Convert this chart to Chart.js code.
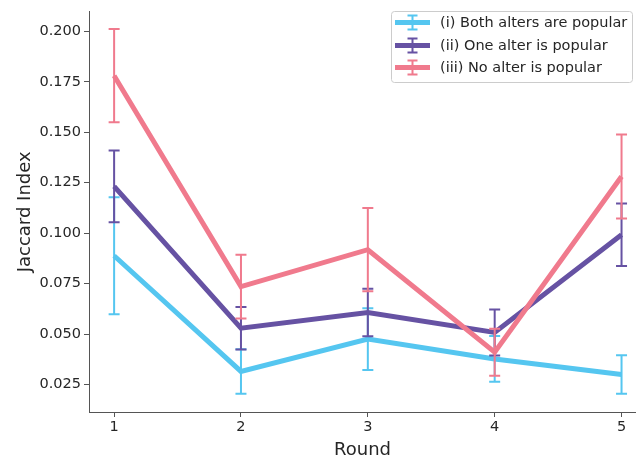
<!DOCTYPE html>
<html>
<head>
<meta charset="utf-8">
<script src="https://cdn.jsdelivr.net/npm/chart.js@4/dist/chart.umd.min.js"></script>
<style>
  html, body { margin: 0; padding: 0; background: #fff; }
  #wrap { width: 636px; height: 461px; position: relative; }
</style>
</head>
<body>
<div id="wrap"><canvas id="c" width="636" height="461"></canvas></div>
<script>
// ---- data ----
const rounds = [1, 2, 3, 4, 5];
const seriesLabels = ["(i) Both alters are popular", "(ii) One alter is popular", "(iii) No alter is popular"];
const bothMean = [0.0888, 0.0315, 0.0475, 0.0377, 0.0300];
const bothErr  = [0.0290, 0.0110, 0.0153, 0.0113, 0.0095];
const oneMean  = [0.1232, 0.0529, 0.0607, 0.0508, 0.0992];
const oneErr   = [0.0178, 0.0105, 0.0118, 0.0114, 0.0155];
const noMean   = [0.1780, 0.0735, 0.0918, 0.0410, 0.1281];
const noErr    = [0.0231, 0.0158, 0.0206, 0.0116, 0.0208];
const yTicks = [0.025, 0.050, 0.075, 0.100, 0.125, 0.150, 0.175, 0.200];
const xTicks = [1, 2, 3, 4, 5];

const colors = ["#55c6f0", "#6652a3", "#f07a8d"];
const FONT = "'DejaVu Sans', sans-serif";

function pts(means) { return rounds.map((r, i) => ({ x: r, y: means[i] })); }

const errorBarPlugin = {
  id: 'errorBars',
  afterDatasetDraw(chart, args) {
    const ds = chart.data.datasets[args.index];
    if (!ds.errors) return;
    const ctx = chart.ctx;
    const xs = chart.scales.x, ys = chart.scales.y;
    ctx.save();
    ctx.strokeStyle = ds.borderColor;
    ctx.lineWidth = 2;
    ds.data.forEach((p, i) => {
      const e = ds.errors[i];
      const px = xs.getPixelForValue(p.x);
      const top = ys.getPixelForValue(p.y + e);
      const bot = ys.getPixelForValue(p.y - e);
      ctx.beginPath();
      ctx.moveTo(px, top); ctx.lineTo(px, bot);
      ctx.moveTo(px - 5.5, top); ctx.lineTo(px + 5.5, top);
      ctx.moveTo(px - 5.5, bot); ctx.lineTo(px + 5.5, bot);
      ctx.stroke();
    });
    ctx.restore();
  }
};

const legendPlugin = {
  id: 'customLegend',
  afterDraw(chart) {
    const ctx = chart.ctx;
    ctx.save();
    const bx = 391.5, by = 11.5, bw = 241, bh = 71;
    ctx.fillStyle = 'rgba(255,255,255,0.8)';
    ctx.strokeStyle = '#cccccc';
    ctx.lineWidth = 1;
    ctx.beginPath();
    ctx.roundRect(bx, by, bw, bh, 3);
    ctx.fill();
    ctx.stroke();
    const rowsY = [22.5, 45.5, 67.5];
    seriesLabels.forEach((lab, i) => {
      const cy = rowsY[i];
      ctx.strokeStyle = colors[i];
      ctx.lineWidth = 5;
      ctx.beginPath();
      ctx.moveTo(395, cy); ctx.lineTo(430, cy);
      ctx.stroke();
      ctx.lineWidth = 2;
      ctx.beginPath();
      ctx.moveTo(412.5, cy - 7); ctx.lineTo(412.5, cy + 7);
      ctx.moveTo(407.5, cy - 7); ctx.lineTo(417.5, cy - 7);
      ctx.moveTo(407.5, cy + 7); ctx.lineTo(417.5, cy + 7);
      ctx.stroke();
      ctx.fillStyle = '#262626';
      ctx.font = "14.5px " + FONT;
      ctx.textBaseline = 'middle';
      ctx.textAlign = 'left';
      ctx.fillText(lab, 440, cy + 0.5);
    });
    ctx.restore();
  }
};

const means = [bothMean, oneMean, noMean];
const errs = [bothErr, oneErr, noErr];

new Chart(document.getElementById('c'), {
  type: 'line',
  data: {
    datasets: seriesLabels.map((lab, i) => ({
      label: lab,
      data: pts(means[i]),
      errors: errs[i],
      borderColor: colors[i],
      backgroundColor: colors[i],
      borderWidth: 5,
      pointRadius: 0,
      tension: 0,
      fill: false,
      order: 3 - i,
      clip: false
    }))
  },
  options: {
    responsive: false,
    animation: false,
    devicePixelRatio: 1,
    layout: { padding: { top: 4, right: 0, left: 0, bottom: 0 } },
    plugins: { legend: { display: false }, tooltip: { enabled: false } },
    scales: {
      x: {
        type: 'linear',
        min: 0.802,
        max: 5.114,
        afterBuildTicks: (s) => { s.ticks = xTicks.map(v => ({ value: v })); },
        afterFit: (s) => { s.height = 49; },
        grid: { drawOnChartArea: false, drawTicks: true, tickLength: 5, tickWidth: 1, tickColor: '#555' },
        border: { display: true, color: '#555', width: 1 },
        ticks: { color: '#262626', font: { family: FONT, size: 14.5 }, padding: 2, callback: (v) => String(v), maxRotation: 0 },
        title: { display: true, text: 'Round', color: '#262626', font: { family: FONT, size: 18 }, padding: { top: 4, bottom: 0 } }
      },
      y: {
        type: 'linear',
        min: 0.0114,
        max: 0.2097,
        afterBuildTicks: (s) => { s.ticks = yTicks.map(v => ({ value: v })); },
        afterFit: (s) => { s.width = 89; },
        grid: { drawOnChartArea: false, drawTicks: true, tickLength: 5, tickWidth: 1, tickColor: '#555' },
        border: { display: true, color: '#555', width: 1 },
        ticks: { color: '#262626', font: { family: FONT, size: 14.5 }, padding: 3, callback: (v) => Number(v).toFixed(3) },
        title: { display: true, text: 'Jaccard Index', color: '#262626', font: { family: FONT, size: 18 }, padding: { top: 15, bottom: 0 } }
      }
    }
  },
  plugins: [errorBarPlugin, legendPlugin]
});
</script>
</body>
</html>
